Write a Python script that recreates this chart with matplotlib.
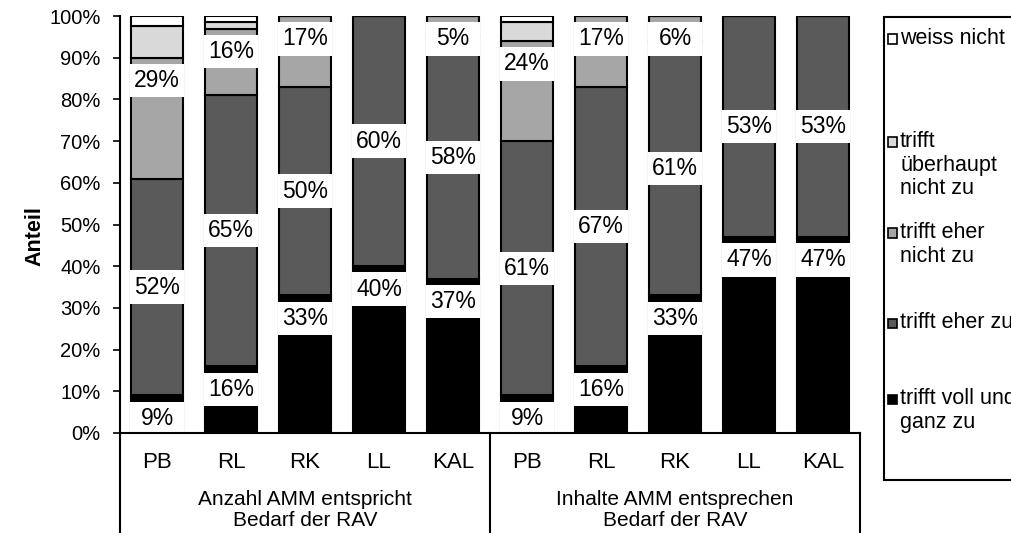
import matplotlib.pyplot as plt
from matplotlib.patches import Rectangle
from matplotlib.lines import Line2D
import matplotlib.transforms as mtransforms

plt.rcParams['font.family'] = ['Liberation Sans', 'DejaVu Sans']

# Antworten je Region (Prozent), zwei Fragen nebeneinander
regions = ["PB", "RL", "RK", "LL", "KAL", "PB", "RL", "RK", "LL", "KAL"]
voll_und_ganz = [9, 16, 33, 40, 37, 9, 16, 33, 47, 47]
eher_zu = [52, 65, 50, 60, 58, 61, 67, 61, 53, 53]
eher_nicht = [29, 16, 17, 0, 5, 24, 17, 6, 0, 0]
ueberhaupt_nicht = [7.5, 1.5, 0, 0, 0, 4.5, 0, 0, 0, 0]
weiss_nicht = [2.5, 1.5, 0, 0, 0, 1.5, 0, 0, 0, 0]

group_titles = ["Anzahl AMM entspricht\nBedarf der RAV",
                "Inhalte AMM entsprechen\nBedarf der RAV"]

series = [voll_und_ganz, eher_zu, eher_nicht, ueberhaupt_nicht, weiss_nicht]
names = ["trifft voll und\nganz zu", "trifft eher zu", "trifft eher\nnicht zu",
         "trifft\nüberhaupt\nnicht zu", "weiss nicht"]
colors = ["#000000", "#5a5a5a", "#a6a6a6", "#d9d9d9", "#ffffff"]

W, H = 1011, 533
fig = plt.figure(figsize=(W / 100, H / 100), dpi=100)
ax = fig.add_axes([120 / W, 100 / H, 740 / W, 417 / H])

x = list(range(len(regions)))
bar_w = 0.69
bottoms = [0] * len(regions)
for vals, col in zip(series, colors):
    ax.bar(x, vals, bar_w, bottom=bottoms, color=col, edgecolor="black",
           linewidth=1.5, zorder=2)
    bottoms = [b + v for b, v in zip(bottoms, vals)]

# Wertebeschriftungen mit weissem Hintergrund
box_h = 8
for i in x:
    base = 0
    for k, vals in enumerate(series[:3]):
        v = vals[i]
        top = base + v
        if v > 0:
            y = base + v / 2 if k == 1 else top - 5.5
            ax.add_patch(Rectangle((i - bar_w / 2 - 0.02, y - box_h / 2),
                                   bar_w + 0.04, box_h, facecolor="white",
                                   edgecolor="none", zorder=3))
            ax.text(i, y, f"{v}%", ha="center", va="center", fontsize=16.5,
                    zorder=4)
        base = top

ax.set_xlim(-0.5, 9.5)
ax.set_ylim(0, 100)
ax.set_yticks(range(0, 101, 10))
ax.set_yticklabels([f"{t}%" for t in range(0, 101, 10)], fontsize=14.5)
ax.tick_params(axis="y", direction="out", length=5, width=1.2, pad=9)
ax.set_xticks(x)
ax.set_xticklabels(regions, fontsize=16)
ax.tick_params(axis="x", length=0, pad=14)
for s in ["top", "right"]:
    ax.spines[s].set_visible(False)
ax.spines["left"].set_linewidth(1.5)
ax.spines["bottom"].set_linewidth(1.5)
ax.spines["bottom"].set_zorder(5)

# Trennlinien der Fragengruppen unter der Achse
trans = mtransforms.blended_transform_factory(ax.transData, ax.transAxes)
for xs in [-0.5, 4.5, 9.5]:
    ax.add_line(Line2D([xs, xs], [0, -0.25], transform=trans, color="black",
                       linewidth=1.5, clip_on=False))
for gi, title in enumerate(group_titles):
    ax.text(2 + gi * 5, -0.185, title, transform=trans, ha="center",
            va="center", fontsize=15, linespacing=1.12)

fig.text(35 / W, (H - 236) / H, "Anteil", rotation=90, ha="center",
         va="center", fontsize=15.5, fontweight="bold")

# Legende rechts, Rahmen laeuft ueber den Rand hinaus
fig.patches.append(Rectangle((884 / W, (H - 480) / H), 200 / W, 463 / H,
                             transform=fig.transFigure, facecolor="white",
                             edgecolor="black", linewidth=1.5))
legend_y = [39, 142, 233, 323, 399]
order = [4, 3, 2, 1, 0]
for y, k in zip(legend_y, order):
    fig.patches.append(Rectangle((888 / W, (H - y - 4.5) / H), 9 / W, 9 / H,
                                 transform=fig.transFigure,
                                 facecolor=colors[k], edgecolor="black",
                                 linewidth=1.2))
    fig.text(900 / W, (H - y + 11) / H, names[k], ha="left", va="top",
             fontsize=15.5, linespacing=1.17)

fig.savefig("out.png", dpi=100)
